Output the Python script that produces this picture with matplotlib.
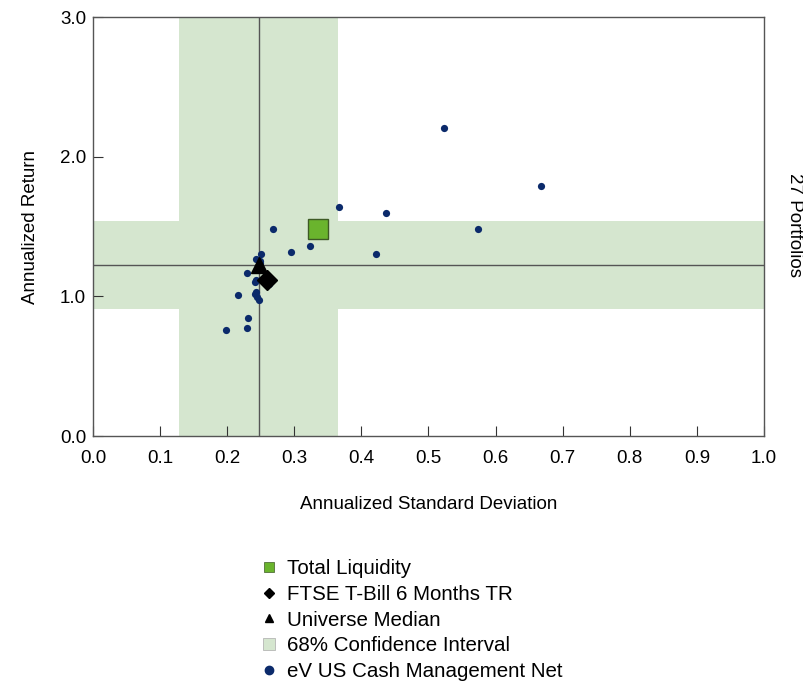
import matplotlib
matplotlib.use("Agg")
import matplotlib.pyplot as plt
from matplotlib.lines import Line2D

# eV US Cash Management Net universe (27 portfolios)
univ_sd = [0.198, 0.230, 0.231, 0.216, 0.242, 0.245, 0.247, 0.242, 0.243, 0.243,
           0.263, 0.230, 0.243, 0.249, 0.251, 0.295, 0.324, 0.268, 0.367, 0.437,
           0.422, 0.574, 0.523, 0.667, 0.249, 0.258, 0.262]
univ_ret = [0.76, 0.77, 0.845, 1.01, 1.02, 0.993, 0.974, 1.10, 1.117, 1.267,
            1.088, 1.165, 1.03, 1.25, 1.30, 1.32, 1.36, 1.48, 1.64, 1.594,
            1.303, 1.484, 2.207, 1.79, 1.24, 1.13, 1.10]

total_liq = (0.335, 1.48)
tbill = (0.259, 1.12)
median = (0.247, 1.224)
ci_sd = (0.128, 0.365)
ci_ret = (0.91, 1.54)

x_ticks = [0.0, 0.1, 0.2, 0.3, 0.4, 0.5, 0.6, 0.7, 0.8, 0.9, 1.0]
y_ticks = [0.0, 1.0, 2.0, 3.0]

green_band = "#d5e6cf"
navy = "#0b2a6b"
font = "Liberation Sans"

fig = plt.figure(figsize=(8.04, 6.83), dpi=100)
ax = fig.add_axes([0.1157, 0.3616, 0.8345, 0.6135])

# confidence bands
ax.axvspan(ci_sd[0], ci_sd[1], color=green_band, lw=0, zorder=0)
ax.axhspan(ci_ret[0], ci_ret[1], color=green_band, lw=0, zorder=0)

# median cross lines
ax.axvline(median[0], color="#555555", lw=1, zorder=1)
ax.axhline(median[1], color="#555555", lw=1, zorder=1)

ax.scatter(univ_sd, univ_ret, s=27, color=navy, zorder=3, lw=0)
ax.plot(*total_liq, marker="s", ms=14, color="#6ab42d", mec="#3d5a25", mew=1, zorder=5)
ax.plot(*tbill, marker="D", ms=10, color="black", zorder=4)
ax.plot(*median, marker="^", ms=12, color="black", zorder=4)

ax.set_xlim(0, 1)
ax.set_ylim(0, 3)
ax.set_xticks(x_ticks)
ax.set_yticks(y_ticks)
ax.set_xticklabels([f"{v:.1f}" for v in x_ticks], fontfamily=font, fontsize=13.5)
ax.set_yticklabels([f"{v:.1f}" for v in y_ticks], fontfamily=font, fontsize=13.5)
ax.tick_params(axis="x", direction="in", length=7, color="#333333", pad=10)
ax.tick_params(axis="y", direction="in", length=7, color="#333333", pad=5)
for sp in ax.spines.values():
    sp.set_color("#555555")
    sp.set_linewidth(1)

ax.set_xlabel("Annualized Standard Deviation", fontfamily=font, fontsize=13.5, labelpad=21)
ax.set_ylabel("Annualized Return", fontfamily=font, fontsize=13.5, labelpad=15)

fig.text(0.978, 0.67, "27 Portfolios", rotation=-90, fontfamily=font, fontsize=13.5,
         ha="left", va="center")

handles = [
    Line2D([], [], ls="", marker="s", ms=7, color="#6ab42d", mec="#3d5a25", mew=0.5),
    Line2D([], [], ls="", marker="D", ms=5, color="black"),
    Line2D([], [], ls="", marker="^", ms=6, color="black"),
    Line2D([], [], ls="", marker="s", ms=8, color=green_band, mec="#aaaaaa", mew=0.5),
    Line2D([], [], ls="", marker="o", ms=6, color=navy),
]
labels = ["Total Liquidity", "FTSE T-Bill 6 Months TR", "Universe Median",
          "68% Confidence Interval", "eV US Cash Management Net"]
fig.legend(handles, labels, loc="upper left", bbox_to_anchor=(0.312, 0.196),
           frameon=False, prop={"family": font, "size": 14.8},
           handlelength=0.8, handletextpad=0.45, labelspacing=0.32, borderpad=0)

fig.savefig("out.png", dpi=100)
